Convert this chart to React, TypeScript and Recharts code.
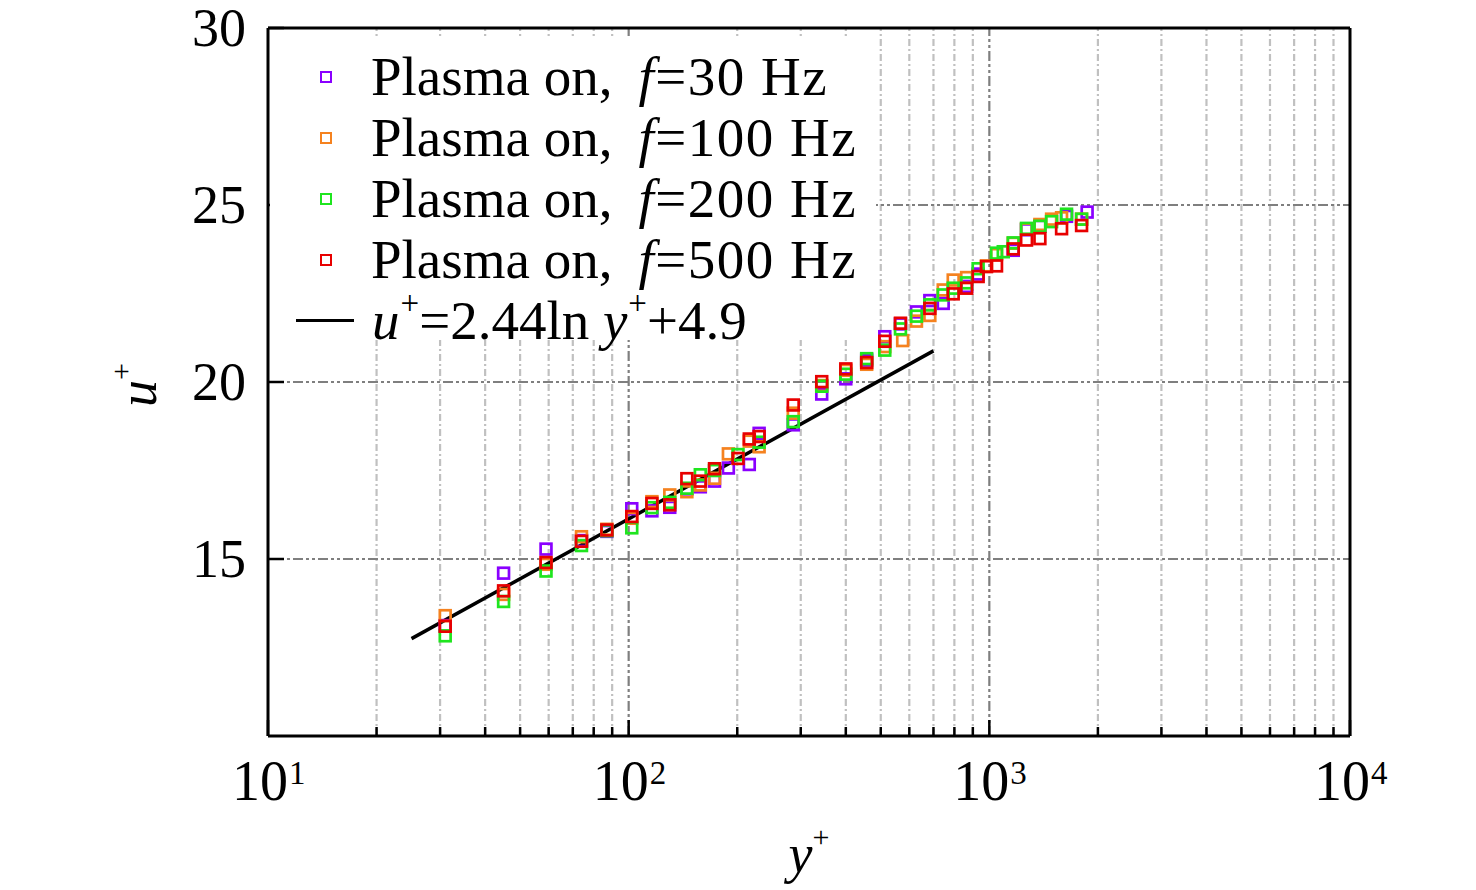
import { ScatterChart, Scatter, XAxis, YAxis, ReferenceLine } from "recharts";

// [y+, u+]
const f30: [number, number][] = [
  [31, 13.12], [45, 14.6], [59, 15.28], [74, 15.52], [87, 15.78], [102, 16.42], [116, 16.36], [130, 16.46],
  [145, 16.98], [158, 17.04], [173, 17.2], [189, 17.57], [216, 17.67], [230, 18.55], [286, 18.79], [343, 19.66],
  [400, 20.09], [457, 20.62], [513, 21.28], [567, 21.64], [628, 21.98], [684, 22.3], [745, 22.22], [865, 22.7],
  [931, 23.05], [1165, 23.72], [1268, 24.3], [1381, 24.4], [1637, 24.68], [1867, 24.8],
];
const f100: [number, number][] = [
  [31, 13.4], [45, 14.0], [59, 14.85], [74, 15.63], [87, 15.84], [102, 16.15], [116, 16.62], [130, 16.81],
  [145, 16.9], [158, 17.09], [173, 17.28], [189, 17.97], [216, 18.33], [230, 18.17], [286, 19.12], [343, 19.9],
  [400, 20.33], [457, 20.5], [513, 21.0], [575, 21.17], [628, 21.72], [684, 21.88], [745, 22.6], [794, 22.88],
  [865, 22.95], [982, 23.28], [1047, 23.6], [1165, 23.92], [1268, 24.32], [1381, 24.45], [1488, 24.6], [1586, 24.64],
  [1802, 24.6],
];
const f200: [number, number][] = [
  [31, 12.83], [45, 13.8], [59, 14.66], [74, 15.38], [87, 15.8], [102, 15.88], [116, 16.45], [130, 16.6],
  [145, 17.0], [158, 17.38], [173, 17.5], [201, 17.95], [230, 18.3], [286, 18.88], [343, 19.88], [400, 20.22],
  [457, 20.66], [513, 20.9], [567, 21.5], [628, 21.86], [684, 22.18], [745, 22.46], [794, 22.65], [865, 22.8],
  [931, 23.2], [1047, 23.64], [1093, 23.68], [1165, 23.93], [1268, 24.34], [1381, 24.4], [1488, 24.53], [1637, 24.74],
  [1802, 24.6],
];
const f500: [number, number][] = [
  [31, 13.1], [45, 14.1], [59, 14.9], [74, 15.5], [87, 15.82], [102, 16.2], [116, 16.57], [130, 16.53],
  [145, 17.27], [158, 17.2], [173, 17.55], [201, 17.84], [216, 18.39], [230, 18.46], [286, 19.35], [343, 20.01],
  [400, 20.37], [457, 20.55], [513, 21.15], [567, 21.66], [684, 22.08], [794, 22.49], [865, 22.65], [931, 22.98],
  [982, 23.26], [1047, 23.28], [1165, 23.76], [1268, 24.01], [1381, 24.05], [1586, 24.33], [1802, 24.42],
];
// end points of the log-law line u+=2.44ln y+ +4.9
const logLaw: [number, number][] = [[25, 12.75], [700, 20.88]];

const xTicks = [
  10, 20, 30, 40, 50, 60, 70, 80, 90,
  100, 200, 300, 400, 500, 600, 700, 800, 900,
  1000, 2000, 3000, 4000, 5000, 6000, 7000, 8000, 9000, 10000,
];
const xMajorGrid = [100, 1000];
const xMinorGrid = xTicks.filter((t) => !xMajorGrid.includes(t) && t !== 10 && t !== 10000);
const yTicks = [15, 20, 25, 30];
const yGrid = [15, 20, 25];

const series = [
  { name: "30", data: f30, color: "#8a00ff" },
  { name: "100", data: f100, color: "#f5821f" },
  { name: "200", data: f200, color: "#1fe51f" },
  { name: "500", data: f500, color: "#e80000" },
];

const FONT = '"Liberation Serif", "Times New Roman", serif';
const toPts = (d: [number, number][]) => d.map(([x, y]) => ({ x, y }));

function SquareMark({ cx, cy, fill }: any) {
  if (cx == null || cy == null) return <g />;
  return <rect x={cx - 5.4} y={cy - 5.4} width={10.8} height={10.8} fill="none" stroke={fill} strokeWidth={2.7} />;
}

function XTick({ x, y, payload }: any) {
  const lg = Math.log10(payload.value);
  const major = Math.abs(lg - Math.round(lg)) < 1e-6;
  return (
    <g>
      <line x1={x} x2={x} y1={y} y2={y - (major ? 16 : 9)} stroke="#000" strokeWidth={2.5} />
      {major && (
        <g fontFamily={FONT} fill="#000">
          <text x={x - 36} y={y + 64} fontSize={56}>10</text>
          <text x={x + 21} y={y + 48} fontSize={33}>{Math.round(lg)}</text>
        </g>
      )}
    </g>
  );
}

function YTick({ x, y, payload }: any) {
  return (
    <g>
      <line x1={x} x2={x + 16} y1={y} y2={y} stroke="#000" strokeWidth={2.5} />
      <text x={x - 22} y={y + 18} textAnchor="end" fontFamily={FONT} fontSize={54} fill="#000">{payload.value}</text>
    </g>
  );
}

function LegendBox() {
  const row = { display: "flex", alignItems: "center", height: 61, whiteSpace: "nowrap" as const };
  const sup = { fontSize: "0.6em", position: "relative" as const, top: "-0.75em", marginLeft: 1 };
  return (
    <div
      style={{
        position: "absolute", left: 270, top: 36, width: 606, height: 304, background: "#fff",
        fontFamily: FONT, fontSize: 55, color: "#000", paddingTop: 10, boxSizing: "border-box",
      }}
    >
      {series.map((s) => (
        <div key={s.name} style={row}>
          <span style={{ display: "inline-block", width: 8, height: 8, border: `2.7px solid ${s.color}`, marginLeft: 50, marginRight: 39 }} />
          <span>Plasma on,</span>
          <span style={{ marginLeft: 26, letterSpacing: 1.5 }}><i>f</i>=<span>{s.name}</span> Hz</span>
        </div>
      ))}
      <div style={row}>
        <span style={{ display: "inline-block", width: 58, height: 3.5, background: "#000", marginLeft: 26, marginRight: 18 }} />
        <span><i>u</i><span style={sup}>+</span>=2.44ln <i>y</i><span style={sup}>+</span>+4.9</span>
      </div>
    </div>
  );
}

export default function App() {
  return (
    <div style={{ position: "absolute", left: 0, top: 0, width: 1476, height: 890, background: "#fff" }}>
      <ScatterChart width={1476} height={890} margin={{ top: 27, right: 125, bottom: 74, left: 188 }}>
        <XAxis
          dataKey="x" type="number" scale="log" domain={[10, 10000]} allowDataOverflow
          ticks={xTicks} interval={0} tick={<XTick />} tickLine={false} tickSize={0} tickMargin={0}
          height={80} axisLine={{ stroke: "#000", strokeWidth: 3 }}
          label={{ content: () => (
            <text x={809} y={872} textAnchor="middle" fontFamily={FONT} fontSize={54} fill="#000">
              <tspan fontStyle="italic">y</tspan><tspan fontSize={30} dy={-25}>+</tspan>
            </text>
          ) }}
        />
        <XAxis xAxisId="top" orientation="top" type="number" scale="log" domain={[10, 10000]} allowDataOverflow
          height={1} tick={false} tickLine={false} axisLine={{ stroke: "#000", strokeWidth: 3 }} />
        <YAxis
          dataKey="y" type="number" domain={[10, 30]} allowDataOverflow
          ticks={yTicks} interval={0} tick={<YTick />} tickLine={false} tickSize={0} tickMargin={0}
          width={80} axisLine={{ stroke: "#000", strokeWidth: 3 }}
          label={{ content: () => (
            <text transform="translate(156,385) rotate(-90)" textAnchor="middle" fontFamily={FONT} fontSize={54} fill="#000">
              <tspan fontStyle="italic">u</tspan><tspan fontSize={30} dy={-25}>+</tspan>
            </text>
          ) }}
        />
        <YAxis yAxisId="right" orientation="right" type="number" domain={[10, 30]} allowDataOverflow
          width={1} tick={false} tickLine={false} axisLine={{ stroke: "#000", strokeWidth: 3 }} />
        {xMinorGrid.map((v) => (
          <ReferenceLine key={`mx${v}`} x={v} stroke="#c0c0c0" strokeWidth={2.2} strokeDasharray="7 3 2 3" />
        ))}
        {xMajorGrid.map((v) => (
          <ReferenceLine key={`Mx${v}`} x={v} stroke="#7f7f7f" strokeWidth={2.2} strokeDasharray="10 3 3 3 3 3" />
        ))}
        {yGrid.map((v) => (
          <ReferenceLine key={`y${v}`} y={v} stroke="#7f7f7f" strokeWidth={2.2} strokeDasharray="10 3 3 3 3 3" />
        ))}
        <Scatter data={toPts(logLaw)} fill="#000" line={{ stroke: "#000", strokeWidth: 3.5 }} shape={() => <g />} isAnimationActive={false} />
        {series.map((s) => (
          <Scatter key={s.name} data={toPts(s.data)} fill={s.color} shape={<SquareMark />} isAnimationActive={false} />
        ))}
      </ScatterChart>
      <LegendBox />
    </div>
  );
}
